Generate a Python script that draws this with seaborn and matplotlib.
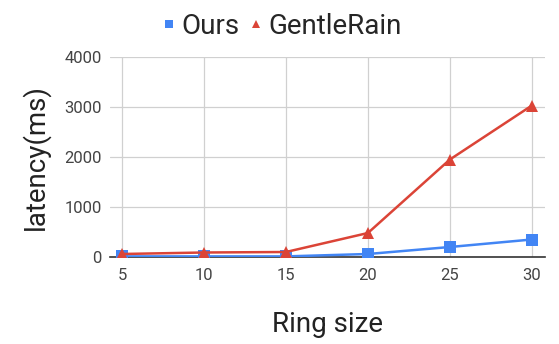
import pandas as pd
import matplotlib.pyplot as plt
import seaborn as sns
from matplotlib.lines import Line2D

# data
ring_size = [5, 10, 15, 20, 25, 30]
ours = [12, 12, 12, 60, 200, 350]
gentlerain = [60, 90, 100, 480, 1950, 3030]
series_names = ['Ours', 'GentleRain']
colores = {'Ours': '#4285F4', 'GentleRain': '#DB4437'}
marcadores = {'Ours': 's', 'GentleRain': '^'}

df = pd.DataFrame({
    'ring': ring_size * 2,
    'latency': ours + gentlerain,
    'serie': ['Ours'] * len(ring_size) + ['GentleRain'] * len(ring_size),
})

sns.set_style('white')
plt.rcParams['font.family'] = ['Roboto', 'DejaVu Sans']

fig = plt.figure(figsize=(5.59, 3.44), dpi=100)
ax = fig.add_axes([110 / 559, 1 - 257 / 344, 435 / 559, 200 / 344])

sns.lineplot(data=df, x='ring', y='latency', hue='serie', style='serie',
             hue_order=series_names, style_order=series_names,
             palette=colores, markers=marcadores, dashes=False,
             markersize=9, markeredgewidth=0, linewidth=1.8,
             legend=False, ax=ax)

ax.set_xlim(4.27, 30.8)
ax.set_ylim(0, 4000)
ax.set_xticks(ring_size)
ax.set_yticks([0, 1000, 2000, 3000, 4000])
ax.grid(True, color='#d0d0d0', linewidth=0.9)
ax.set_axisbelow(True)
for lado in ['top', 'right', 'left']:
    ax.spines[lado].set_visible(False)
ax.spines['bottom'].set_color('#333333')
ax.spines['bottom'].set_linewidth(1.2)
ax.spines['bottom'].set_zorder(1)
ax.tick_params(axis='both', length=0, labelsize=12, labelcolor='#444444')
ax.tick_params(axis='x', pad=8)
ax.tick_params(axis='y', pad=6)

ax.set_xlabel('Ring size', fontsize=20, color='#222222', labelpad=20)
ax.set_ylabel('latency(ms)', fontsize=20, color='#222222', labelpad=10)

handles = [Line2D([], [], linestyle='none', marker=marcadores[n], color=colores[n],
                  markersize=5.5, markeredgewidth=0) for n in series_names]
fig.legend(handles, series_names, loc='center', bbox_to_anchor=(280 / 559, 1 - 26 / 344),
           ncol=2, frameon=False, fontsize=20, handletextpad=0.05, columnspacing=0.2,
           handlelength=0.8)

fig.savefig('out.png', dpi=100)
